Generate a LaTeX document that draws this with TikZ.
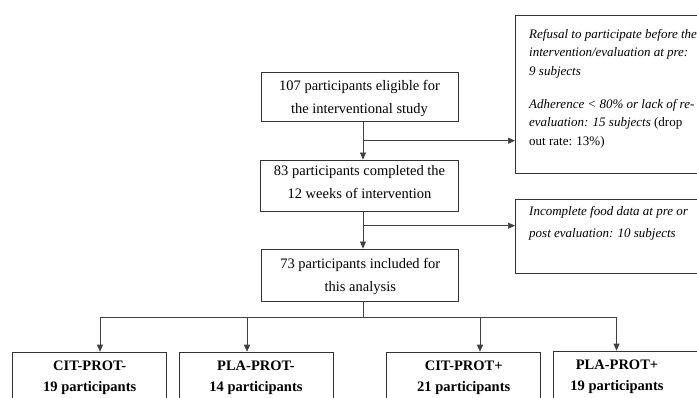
\documentclass[tikz,border=0pt]{standalone}
\usepackage{fontspec}
\setmainfont{Liberation Serif}
\usetikzlibrary{arrows.meta}
\begin{document}
\begin{tikzpicture}[x=1pt,y=-1pt,
  box/.style={draw=black!80, line width=0.9pt, rectangle, inner sep=0pt},
  arr/.style={-{Triangle[length=7pt,width=6pt]}, line width=0.7pt, draw=black!75},
  ln/.style={line width=0.7pt, draw=black!75},
  main/.style={box, font=\fontsize{14.5}{22.7}\selectfont, align=center, text depth=0pt},
  side/.style={box, anchor=north west},
  sidetxt/.style={anchor=north west, font=\fontsize{13}{18.5}\selectfont\itshape, align=left, inner sep=0pt},
  grp/.style={box, anchor=north, minimum width=154pt, minimum height=60pt},
  grptxt/.style={anchor=base, inner sep=0pt, font=\fontsize{14.5}{17}\selectfont\bfseries},
]
\useasboundingbox (0,0) rectangle (697,397);
\clip (0,0) rectangle (697,397);

% main column
\node[main, minimum width=197pt, minimum height=49pt] (b1) at (359.5,97.2) {107 participants eligible for\\the interventional study};
\node[main, minimum width=198pt, minimum height=51pt, text depth=6.8pt, font=\fontsize{14.5}{23.3}\selectfont] (b2) at (359.5,185.5) {83 participants completed the\\12 weeks of intervention};
\node[main, minimum width=197pt, minimum height=52pt] (b3) at (360.3,275) {73 participants included for\\this analysis};

\coordinate (cx) at (363,0);
\coordinate (j1) at (363,140.7);
\coordinate (j2) at (363,225.7);
\coordinate (j3) at (363,317);

% side boxes
\node[side, minimum width=200pt, minimum height=158pt] (r1) at (515,15) {};
\node[sidetxt] (t1) at (529,29)
 {Refusal to participate before the\\intervention/evaluation at pre:\\9 subjects\\[14.5pt]
  Adherence < 80\% or lack of re-\\evaluation: 15 subjects \upshape(drop\\\upshape out rate: 13\%)};
\node[side, minimum width=200pt, minimum height=74pt] (r2) at (515,199) {};
\node[sidetxt, font=\fontsize{13}{21.7}\selectfont\itshape] (t2) at (529,206)
 {Incomplete food data at pre or\\post evaluation: 10 subjects};

% connectors
\draw[arr] (b1.south -| cx) -- (b2.north -| cx);
\draw[arr] (b2.south -| cx) -- (b3.north -| cx);
\draw[arr] (j1) -- (j1 -| r1.west);
\draw[arr] (j2) -- (j2 -| r2.west);
\draw[ln] (b3.south -| cx) -- (j3);

% group boxes
\node[grp] (g1) at (89.7,351.7) {};
\node[grp] (g2) at (256,351.7) {};
\node[grp] (g3) at (463.7,351.7) {};
\node[grp] (g4) at (630,350.7) {};
\node[grptxt] (g1a) at (89.7,370) {CIT-PROT-};
\node[grptxt] (g1b) at (89.7,391.5) {19 participants};
\node[grptxt] (g2a) at (256,370) {PLA-PROT-};
\node[grptxt] (g2b) at (256,391.5) {14 participants};
\node[grptxt] (g3a) at (463.7,370) {CIT-PROT+};
\node[grptxt] (g3b) at (463.7,391.5) {21 participants};
\node[grptxt] (g4a) at (617,369) {PLA-PROT+};
\node[grptxt] (g4b) at (617,390.5) {19 participants};

\coordinate (a1) at (100,317);
\coordinate (a2) at (247,317);
\coordinate (a3) at (480,317);
\coordinate (a4) at (616.5,317);
\draw[ln] (a1) -- (a4);
\draw[arr] (a1) -- (a1 |- g1.north);
\draw[arr] (a2) -- (a2 |- g2.north);
\draw[arr] (a3) -- (a3 |- g3.north);
\draw[arr] (a4) -- (a4 |- g4.north);
\end{tikzpicture}
\end{document}
